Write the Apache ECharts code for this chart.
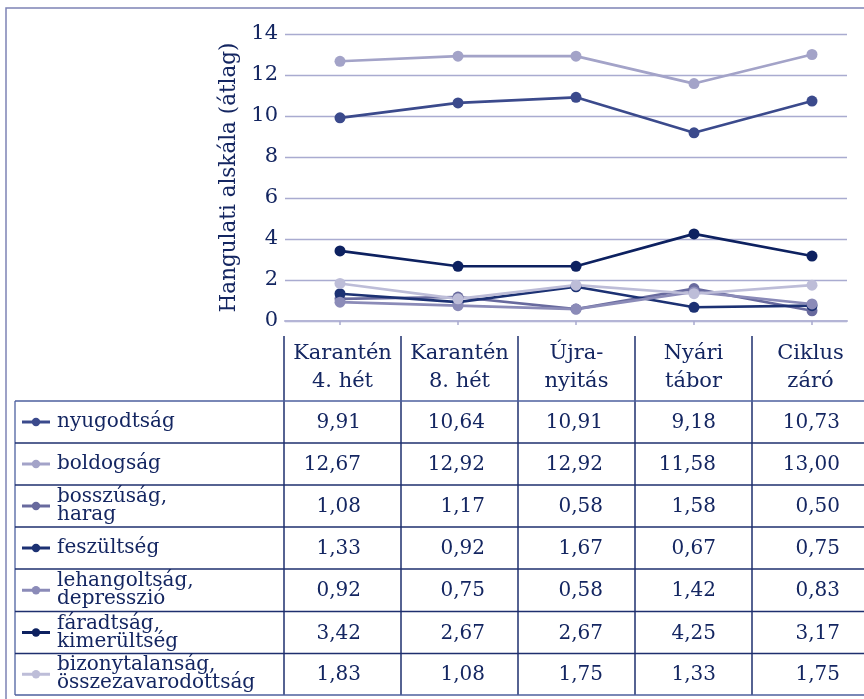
<!DOCTYPE html>
<html>
<head>
<meta charset="utf-8">
<script src="https://cdn.jsdelivr.net/npm/echarts@6/dist/echarts.min.js"></script>
<style>
  html, body { margin: 0; padding: 0; background: #fff; }
  #chart { width: 864px; height: 699px; }
</style>
</head>
<body>
<div id="chart"></div>
<script>
// Measurement points (table header / x positions)
const categories = ['Karantén\n4. hét', 'Karantén\n8. hét', 'Újra-\nnyitás', 'Nyári\ntábor', 'Ciklus\nzáró'];

// Row labels of the data table (one per series)
const seriesLabels = [
  'nyugodtság',
  'boldogság',
  'bosszúság,\nharag',
  'feszültség',
  'lehangoltság,\ndepresszió',
  'fáradtság,\nkimerültség',
  'bizonytalanság,\nösszezavarodottság'
];

// Subscale means per measurement point
const nyugodtsag     = [9.91, 10.64, 10.91, 9.18, 10.73];
const boldogsag      = [12.67, 12.92, 12.92, 11.58, 13.00];
const bosszusag      = [1.08, 1.17, 0.58, 1.58, 0.50];
const feszultseg     = [1.33, 0.92, 1.67, 0.67, 0.75];
const lehangoltsag   = [0.92, 0.75, 0.58, 1.42, 0.83];
const faradtsag      = [3.42, 2.67, 2.67, 4.25, 3.17];
const bizonytalansag = [1.83, 1.08, 1.75, 1.33, 1.75];

// Value axis
const yMin = 0, yMax = 14, yStep = 2;
const yTitle = 'Hangulati alskála (átlag)';

const seriesValues = [nyugodtsag, boldogsag, bosszusag, feszultseg, lehangoltsag, faradtsag, bizonytalansag];
const seriesColors = ['#3b4a8c', '#a3a3c8', '#686a9e', '#1c3173', '#8b8bb8', '#0d2160', '#bdbdd8'];

const FONT = 'DejaVu Serif';
const TEXT = '#142661';
const GRIDLINE = '#a9abd0';

// Plot frame
const plotLeft = 285, plotTop = 34, plotBottom = 321, plotRight = 847;
const firstX = 340, step = 118;            // centre of first category and spacing
const xMin = (plotLeft - firstX) / step;
const xMax = (plotRight - firstX) / step;

// Data table frame
const colX = [284, 401, 518, 635, 752, 869];
const rowY = [401, 443, 485, 527, 569, 611.5, 653.5, 695];
const valueRight = [361, 485, 603, 716, 840];
const tableLeft = 15, headerTop = 336;

const fmt = v => v.toFixed(2).replace('.', ',');

const graphics = [];

// outer chart frame
graphics.push({
  type: 'rect', silent: true, z: 1,
  shape: { x: 6, y: 8, width: 900, height: 750 },
  style: { fill: 'none', stroke: '#7d83b5', lineWidth: 1.5 }
});

// header column separators
colX.slice(0, 5).forEach(x => {
  graphics.push({
    type: 'line', silent: true, z: 5,
    shape: { x1: x, y1: headerTop, x2: x, y2: rowY[0] },
    style: { stroke: '#1e2f6e', lineWidth: 1.5 }
  });
});

// header texts
categories.forEach((c, i) => {
  graphics.push({
    type: 'text', silent: true, z: 6,
    x: (colX[i] + colX[i + 1]) / 2, y: 368,
    style: {
      text: c, fill: TEXT, font: '21px "' + FONT + '"',
      align: 'center', verticalAlign: 'middle', lineHeight: 28
    }
  });
});

// body vertical lines
[tableLeft].concat(colX.slice(0, 5)).forEach((x, k) => {
  graphics.push({
    type: 'line', silent: true, z: 5,
    shape: { x1: x, y1: rowY[0], x2: x, y2: rowY[rowY.length - 1] },
    style: { stroke: k === 0 ? '#6576ad' : '#1e2f6e', lineWidth: 1.5 }
  });
});

// horizontal row lines
rowY.forEach((y, k) => {
  const outer = k === 0 || k === rowY.length - 1;
  graphics.push({
    type: 'line', silent: true, z: 5,
    shape: { x1: tableLeft, y1: y, x2: 870, y2: y },
    style: { stroke: outer ? '#4d5f9e' : '#1e2f6e', lineWidth: 1.5 }
  });
});

// rows: legend key, label, values
seriesLabels.forEach((label, r) => {
  const cy = (rowY[r] + rowY[r + 1]) / 2;
  const color = seriesColors[r];
  graphics.push({
    type: 'line', silent: true, z: 6,
    shape: { x1: 22, y1: cy, x2: 50, y2: cy },
    style: { stroke: color, lineWidth: 3 }
  });
  graphics.push({
    type: 'circle', silent: true, z: 7,
    shape: { cx: 36, cy: cy, r: 4.2 },
    style: { fill: color }
  });
  graphics.push({
    type: 'text', silent: true, z: 6,
    x: 57, y: cy,
    style: {
      text: label, fill: TEXT, font: '20px "' + FONT + '"',
      align: 'left', verticalAlign: 'middle', lineHeight: 18
    }
  });
  seriesValues[r].forEach((v, i) => {
    graphics.push({
      type: 'text', silent: true, z: 6,
      x: valueRight[i], y: cy + 1,
      style: {
        text: fmt(v), fill: TEXT, font: '20px "' + FONT + '"',
        align: 'right', verticalAlign: 'middle'
      }
    });
  });
});

const series = seriesValues.map((vals, r) => ({
  name: seriesLabels[r].replace('\n', ' '),
  type: 'line',
  data: vals.map((v, i) => [i, v]),
  symbol: 'circle',
  symbolSize: 11,
  lineStyle: { color: seriesColors[r], width: 2.6 },
  itemStyle: { color: seriesColors[r] },
  emphasis: { disabled: true },
  animation: false,
  z: 3
}));

const chart = echarts.init(document.getElementById('chart'), null, { renderer: 'canvas' });
chart.setOption({
  animation: false,
  backgroundColor: '#ffffff',
  grid: {
    left: plotLeft, top: plotTop,
    width: plotRight - plotLeft, height: plotBottom - plotTop
  },
  xAxis: {
    type: 'value', min: xMin, max: xMax,
    axisLine: { show: true, onZero: false, lineStyle: { color: '#b4b5d6', width: 2 } },
    axisTick: {
      show: true, length: 4, inside: false,
      customValues: categories.map((_, i) => i),
      lineStyle: { color: '#a9abd0', width: 1.5 }
    },
    axisLabel: { show: false },
    splitLine: { show: false }
  },
  yAxis: {
    type: 'value', min: yMin, max: yMax, interval: yStep,
    name: yTitle, nameLocation: 'middle', nameGap: 45,
    nameTextStyle: { color: TEXT, fontFamily: FONT, fontSize: 21.5 },
    axisLine: { show: false },
    axisTick: { show: false },
    axisLabel: { color: TEXT, fontFamily: FONT, fontSize: 21, margin: 7 },
    splitLine: { lineStyle: { color: GRIDLINE, width: 1.3 } }
  },
  series: series,
  graphic: graphics
});
</script>
</body>
</html>
